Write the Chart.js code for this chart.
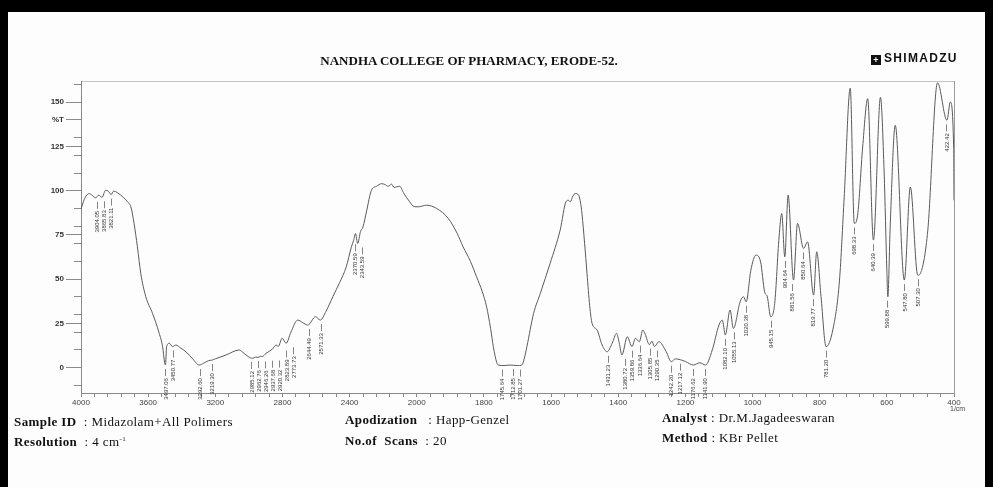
<!DOCTYPE html>
<html>
<head>
<meta charset="utf-8">
<script src="https://cdn.jsdelivr.net/npm/chart.js@4.4.1/dist/chart.umd.min.js"></script>
<style>
    html, body { margin: 0; padding: 0; background: #fff; }
    #wrap { position: relative; width: 993px; height: 487px; overflow: hidden; background: #fdfdfd; }
    #spectrum { position: absolute; left: 0; top: 0; }
    .bar { position: absolute; background: #000; }
    .txt { position: absolute; font-family: 'Liberation Serif', 'Times New Roman', serif; font-size: 13px; letter-spacing: 0.4px; color: #111; white-space: nowrap; }
    .txt b { font-weight: bold; }
    #title { left: 0; width: 938px; top: 53px; text-align: center; font-weight: bold; font-size: 13px; letter-spacing: 0; }
    #brand { left: 871px; top: 51px; font-family: 'Liberation Sans', Arial, sans-serif; font-weight: bold; font-size: 12px; letter-spacing: 1.3px; }
    #brand .logo { display: inline-block; width: 10px; height: 10px; background: #111; color: #fff; font-size: 9px; line-height: 10px; text-align: center; margin-right: 3px; vertical-align: -1px; letter-spacing: 0; }
    #unit { left: 950px; top: 405px; font-family: 'Liberation Sans', Arial, sans-serif; font-size: 7px; letter-spacing: 0; color: #444; }
</style>
</head>
<body>
<div id="wrap">
    <canvas id="spectrum" width="993" height="487"></canvas>
    <div class="bar" style="left:0;top:0;width:993px;height:12px"></div>
    <div class="bar" style="left:0;top:0;width:8px;height:487px"></div>
    <div class="bar" style="left:985px;top:0;width:8px;height:487px"></div>

    <div class="txt" id="title">NANDHA COLLEGE OF PHARMACY, ERODE-52.</div>
    <div class="txt" id="brand"><span class="logo">+</span>SHIMADZU</div>
    <div class="txt" id="unit">1/cm</div>

    <div class="txt" style="left:14px;top:414px"><b>Sample ID</b> &nbsp;: Midazolam+All Polimers</div>
    <div class="txt" style="left:14px;top:434px"><b>Resolution</b> &nbsp;: 4 cm<sup style="font-size:7px">-1</sup></div>
    <div class="txt" style="left:345px;top:412px"><b>Apodization</b> &nbsp;&nbsp;: Happ-Genzel</div>
    <div class="txt" style="left:345px;top:433px"><b>No.of &nbsp;Scans</b> &nbsp;: 20</div>
    <div class="txt" style="left:662px;top:410px"><b>Analyst</b> : Dr.M.Jagadeeswaran</div>
    <div class="txt" style="left:662px;top:430px"><b>Method</b> : KBr Pellet</div>
</div>

<script>
// spectrum (wavenumber in 1/cm, transmittance in %T)
const wavenumbers = [
    4000, 3985, 3970, 3952, 3935, 3912, 3895, 3875, 3853, 3835, 3821, 3805, 3785, 3763, 3745,
    3723, 3703, 3684, 3664, 3644, 3614, 3574, 3534, 3514, 3502, 3497, 3490, 3474, 3455, 3435,
    3405, 3375, 3335, 3296, 3270, 3240, 3219, 3200, 3136, 3057, 3040, 3017, 2990, 2977, 2960,
    2945, 2930, 2920, 2898, 2860, 2838, 2825, 2802, 2778, 2750, 2709, 2680, 2649, 2603, 2575,
    2540, 2500, 2460, 2420, 2390, 2376, 2365, 2352, 2335, 2320, 2300, 2270, 2240, 2210, 2190,
    2170, 2150, 2135, 2120, 2101, 2080, 2042, 2015, 1996, 1971, 1941, 1906, 1880, 1862, 1840,
    1822, 1805, 1792, 1780, 1772, 1762, 1757, 1740, 1722, 1700, 1687, 1680, 1672, 1652, 1632,
    1603, 1573, 1555, 1548, 1543, 1535, 1528, 1518, 1512, 1508, 1500, 1493, 1485, 1478, 1463,
    1448, 1433, 1418, 1405, 1397, 1389, 1373, 1359, 1349, 1337, 1327, 1320, 1307, 1300, 1292,
    1279, 1257, 1242, 1230, 1215, 1200, 1176, 1157, 1140, 1120, 1100, 1090, 1081, 1067, 1057,
    1037, 1027, 1019, 1005, 990, 976, 964, 956, 946, 934, 921, 913, 904, 894, 878,
    866, 848, 836, 818, 809, 796, 781, 761, 741, 727, 709, 697, 687, 672, 657,
    640, 619, 608, 600, 597, 590, 575, 548, 530, 508, 498, 478, 449, 421, 411,
    401, 400
];
const transmittance = [
    89.5, 94, 97, 98.4, 97.5, 96, 97.5, 96.3, 100.3, 99.5, 97.8, 99.8, 99, 97.5, 96,
    93.7, 90.9, 81.5, 68.3, 53.3, 40.1, 30.7, 19.4, 11.9, 3, 1.5, 11.9, 13.8, 11.9, 12.8,
    11, 9.0, 5, 1.5, 2.5, 4.0, 4.3, 5, 7.2, 10.0, 9, 7.2, 5.5, 5.3, 6,
    5.8, 6.5, 6.3, 8.1, 10.5, 12.8, 12.0, 16.6, 13.8, 20, 26.9, 25.5, 24.1, 28.8, 26.9,
    32, 40.1, 48, 57.0, 68, 72, 75.8, 70.2, 77, 79.6, 88, 100.3, 102.5, 104.0, 103.5,
    102.5, 103.7, 101.8, 102.2, 102.5, 99, 93.7, 91, 90.9, 91.8, 90.0, 84.3, 76, 68.3, 60,
    51.4, 43, 34.4, 22, 11.9, 3, 1.5, 1.2, 1.5, 1.2, 1.5, 5, 11.9, 30.7, 42.0,
    58.9, 77.7, 94, 94.6, 93.7, 97, 98.4, 97.5, 93, 87.1, 70, 53.3, 35, 25.1, 21.3,
    12.8, 9.0, 13.8, 19.4, 14, 7.2, 17.5, 11.9, 16.6, 14.7, 21.3, 19, 13, 15, 12,
    14.7, 9.0, 3.4, 5.0, 4.5, 3.5, 1.5, 2.8, 1.5, 10.0, 24.1, 26.9, 18.5, 32.6, 22.2,
    37.2, 40.1, 37.2, 55.1, 63.6, 59.8, 42.9, 40.1, 28.8, 36.3, 73.9, 87.1, 62.6, 97.5, 49.5,
    81.5, 67.4, 71.1, 41.0, 65.5, 40.1, 11.9, 21.3, 49.5, 96.5, 158, 81.5, 86.2, 124.7, 152,
    72.1, 152.8, 110, 55, 40.1, 80, 137, 49.5, 102.1, 52.3, 54.2, 77.7, 161, 139.8, 150.1,
    124.7, 94.6
];

// tick labels
const xTickLabels = [4000, 3600, 3200, 2800, 2400, 2000, 1800, 1600, 1400, 1200, 1000, 800, 600, 400];
const yTickLabels = [0, 25, 50, 75, 100, 125, 150];
const yUnitLabel = '%T';
const yUnitAt = 140;

// peak picks printed under the trace
const peakLabels = [
    '3904.05', '3865.83', '3821.11', '3497.06', '3450.77', '3292.60', '3219.30',
    '2985.12', '2962.76', '2946.26', '2937.68', '2920.32', '2823.89', '2773.73',
    '2644.49', '2571.33', '2370.59', '2343.59', '1745.64', '1712.85', '1701.27',
    '1431.23', '1380.72', '1359.86', '1336.64', '1305.85', '1290.35', '1242.20',
    '1217.12', '1176.62', '1141.90', '1082.10', '1055.13', '1020.38', '945.15',
    '904.64', '881.56', '850.64', '819.77', '781.20', '698.33', '640.39',
    '599.88', '547.80', '507.30', '422.42'
];
const peakDepths = [
    96, 96.3, 97.8, 1.5, 11.9, 1.5, 4.3,
    5.5, 6, 5.8, 6.2, 6.3, 12.0, 13.8,
    24.1, 26.9, 72, 70.2, 1.2, 1.5, 1.2,
    9.0, 7.2, 11.9, 14.7, 13, 12, 3.4,
    4.5, 1.5, 1.5, 18.5, 22.2, 37.2, 28.8,
    62.6, 49.5, 67.4, 41, 11.9, 81.5, 72.1,
    40.1, 49.5, 52.3, 139.8
];

// the scan is 2x compressed above 2000 1/cm, so map wavenumber onto a linear axis
const toU = (wn) => wn >= 2000 ? (4000 - wn) / 2 : 1000 + (2000 - wn);
const fromU = (u) => u <= 1000 ? 4000 - u * 2 : 2000 - (u - 1000);

const points = wavenumbers.map((wn, i) => ({ x: toU(wn), y: transmittance[i] }));

const Y_MIN = -14.3;
const Y_MAX = 162;
const axisGray = '#8a8a8a';

const peakPicks = {
    id: 'peakPicks',
    afterDatasetsDraw(chart) {
        const { ctx, scales } = chart;
        ctx.save();
        ctx.strokeStyle = '#666';
        ctx.lineWidth = 0.8;
        ctx.fillStyle = '#333';
        ctx.font = '6px "Liberation Sans", Arial, sans-serif';
        ctx.textBaseline = 'middle';
        ctx.textAlign = 'right';
        let lastX = -100;
        peakLabels.forEach((label, i) => {
            let px = scales.x.getPixelForValue(toU(parseFloat(label)));
            if (px - lastX < 7) px = lastX + 7;   // spread crowded clusters
            lastX = px;
            const top = scales.y.getPixelForValue(peakDepths[i]) + 4;
            ctx.beginPath();
            ctx.moveTo(Math.round(px) + 0.5, top);
            ctx.lineTo(Math.round(px) + 0.5, top + 7);
            ctx.stroke();
            ctx.save();
            ctx.translate(px, top + 9);
            ctx.rotate(-Math.PI / 2);
            ctx.fillText(label, 0, 0.5);
            ctx.restore();
        });
        ctx.restore();
    }
};

new Chart(document.getElementById('spectrum'), {
    type: 'line',
    data: {
        datasets: [{
            data: points,
            borderColor: '#5a5a5a',
            borderWidth: 1,
            pointRadius: 0,
            cubicInterpolationMode: 'monotone',
            fill: false,
        }]
    },
    options: {
        responsive: false,
        animation: false,
        layout: { padding: { top: 81, right: 39, left: 0, bottom: 0 } },
        plugins: {
            legend: { display: false },
            tooltip: { enabled: false },
        },
        scales: {
            x: {
                type: 'linear',
                position: 'bottom',
                min: 0,
                max: 2600,
                afterBuildTicks: (s) => {
                    const ticks = [];
                    for (let u = 0; u <= 2600; u += 40) ticks.push({ value: u });
                    s.ticks = ticks;
                },
                afterFit: (s) => { s.height = 94; },
                ticks: {
                    autoSkip: false,
                    maxRotation: 0,
                    padding: 1,
                    color: '#444',
                    font: { family: 'Liberation Sans', size: 8 },
                    callback: (v) => {
                        const wn = fromU(v);
                        return xTickLabels.includes(wn) && v % 200 === 0 ? String(wn) : '';
                    }
                },
                grid: { drawOnChartArea: false, tickLength: 4, color: axisGray },
                border: { color: axisGray },
            },
            xTop: {
                axis: 'x',
                type: 'linear',
                position: 'top',
                min: 0,
                max: 2600,
                afterFit: (s) => { s.height = 0; },
                ticks: { display: false },
                grid: { drawOnChartArea: false, drawTicks: false },
                border: { color: '#c4c4c4' },
            },
            y: {
                type: 'linear',
                position: 'left',
                weight: 1,
                min: Y_MIN,
                max: Y_MAX,
                afterBuildTicks: (s) => {
                    s.ticks = [...yTickLabels, yUnitAt].sort((a, b) => a - b).map(v => ({ value: v }));
                },
                afterFit: (s) => { s.width = 81; },
                ticks: {
                    padding: 2,
                    color: '#333',
                    font: { family: 'Liberation Sans', size: 8, weight: 'bold' },
                    callback: (v) => v === yUnitAt ? yUnitLabel : String(v),
                },
                grid: { drawOnChartArea: false, tickLength: 15, color: axisGray },
                border: { color: axisGray },
            },
            y2: {
                axis: 'y',
                type: 'linear',
                position: 'left',
                weight: 0,
                min: Y_MIN,
                max: Y_MAX,
                afterBuildTicks: (s) => {
                    const ticks = [];
                    for (let v = -10; v <= 160; v += 5) ticks.push({ value: v });
                    s.ticks = ticks;
                },
                afterFit: (s) => { s.width = 0; },
                ticks: { callback: () => '' },
                grid: { drawOnChartArea: false, tickLength: 7, color: axisGray },
                border: { display: false },
            },
            yRight: {
                axis: 'y',
                type: 'linear',
                position: 'right',
                min: Y_MIN,
                max: Y_MAX,
                afterFit: (s) => { s.width = 0; },
                ticks: { display: false },
                grid: { drawOnChartArea: false, drawTicks: false },
                border: { color: '#9a9a9a' },
            },
        }
    },
    plugins: [peakPicks]
});
</script>
</body>
</html>
